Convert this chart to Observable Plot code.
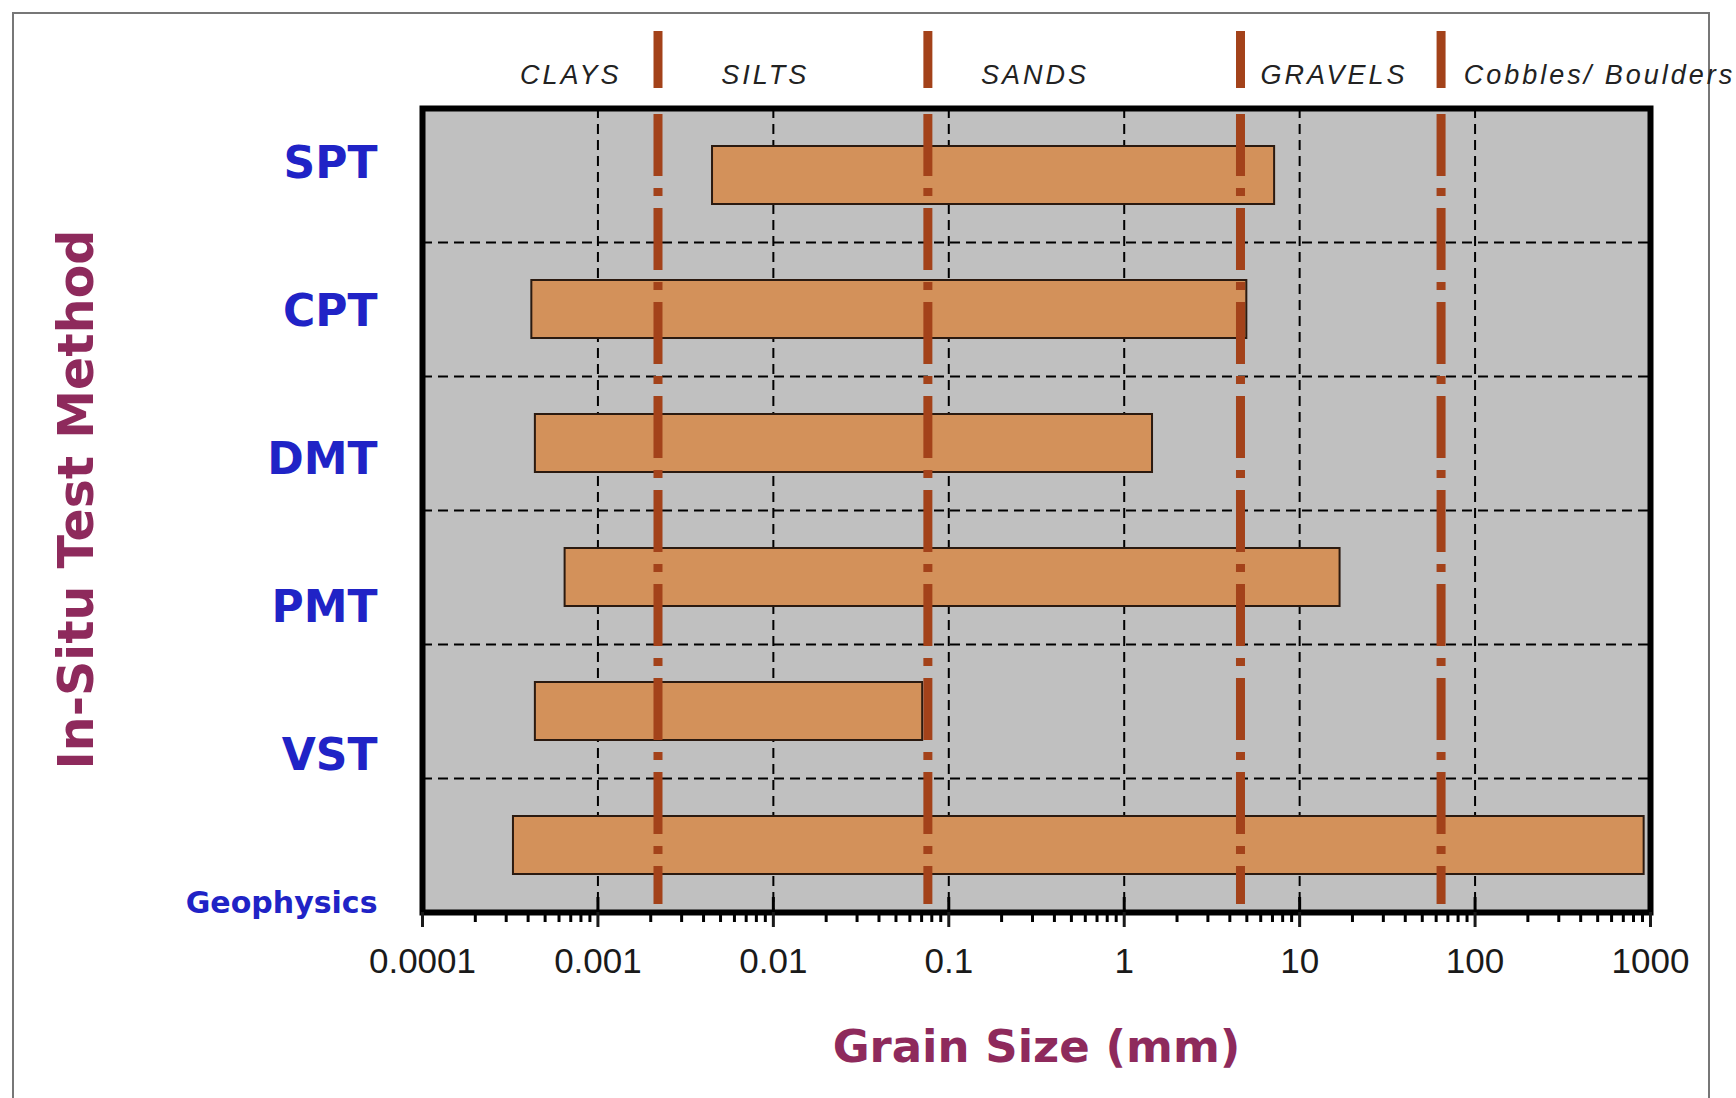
<!DOCTYPE html>
<html><head><meta charset="utf-8">
<script src="https://cdn.jsdelivr.net/npm/d3@7"></script>
<script src="https://cdn.jsdelivr.net/npm/@observablehq/plot@0.6"></script>
<style>
body{margin:0;background:#fff;}
#wrap{position:relative;width:1736px;height:1098px;overflow:hidden;background:#fff;}
#frame{position:absolute;left:12px;top:12px;width:1698px;height:1200px;border:2px solid #777;box-sizing:border-box;}
#wrap svg{position:absolute;left:0;top:0;}
</style></head><body><div id="wrap"><div id="frame"></div></div>
<script>
// ---- data ----
const methods = ["SPT", "CPT", "DMT", "PMT", "VST", "Geophysics"];
const minSize = [0.0045, 0.00042, 0.00044, 0.00065, 0.00044, 0.00033];
const maxSize = [7.2, 5.0, 1.45, 17, 0.071, 920];
const boundaries = [0.0022, 0.076, 4.6, 64];
const zoneNames = ["CLAYS", "SILTS", "SANDS", "GRAVELS", "Cobbles/ Boulders"];
const zoneLabelX = [0.0007, 0.009, 0.31, 15.7, 512];
const decades = [0.0001, 0.001, 0.01, 0.1, 1, 10, 100, 1000];
const tickLabels = ["0.0001", "0.001", "0.01", "0.1", "1", "10", "100", "1000"];

// ---- layout ----
const W = 1736, H = 1098, mL = 422, mR = 86, mT = 108, mB = 186;
const plotH = H - mT - mB;
const step = plotH / methods.length;
const barPad = 0.565;
const rows = methods.map((m, i) => ({method: m, lo: minSize[i], hi: maxSize[i]}));
const zones = zoneNames.map((n, i) => ({name: n, x: zoneLabelX[i]}));
const minorTicks = decades.slice(0, -1).flatMap(d => [2, 3, 4, 5, 6, 7, 8, 9].map(k => +(k * d).toPrecision(3)));
const brown = "#A3421A";
const titleFont = "'Comic Sans MS', 'DejaVu Sans', sans-serif";
const titleColor = "#8E2A5C";

const main = Plot.plot({
  width: W, height: H,
  marginLeft: mL, marginRight: mR, marginTop: mT, marginBottom: mB,
  style: {fontFamily: "'Liberation Sans', Arial, sans-serif", background: "transparent", overflow: "visible"},
  x: {type: "log", domain: [1e-4, 1e3], axis: null},
  y: {type: "band", domain: methods, paddingInner: barPad, paddingOuter: barPad / 2, axis: null},
  marks: [
    Plot.frame({fill: "#C0C0C0", stroke: null}),
    Plot.gridX(decades.slice(1, -1), {stroke: "#000", strokeOpacity: 1, strokeWidth: 2, strokeDasharray: "10,6"}),
    Plot.ruleY(methods.slice(1), {y: d => d, stroke: "#000", strokeWidth: 2, strokeDasharray: "10,6", dy: -step / 2}),
    Plot.barX(rows, {x1: "lo", x2: "hi", y: "method", fill: "#D3915A", stroke: "#2b1a10", strokeWidth: 2}),
    // classification boundaries (dash-dot inside plot, solid stub above)
    Plot.ruleX(boundaries, {stroke: brown, strokeWidth: 9, strokeDasharray: "62,12,8,12", insetTop: 6, insetBottom: 8}),
    Plot.ruleX(boundaries, {stroke: brown, strokeWidth: 9, insetTop: -(mT - 31), insetBottom: plotH + 20}),
    // upward decade ticks inside the plot
    Plot.ruleX(decades, {stroke: "#000", strokeWidth: 3, insetTop: plotH - 15}),
    Plot.frame({stroke: "#000", strokeWidth: 6}),
    Plot.axisX(minorTicks, {tickSize: 10, strokeWidth: 3, text: null, label: null, color: "#000"}),
    Plot.axisX(decades, {tickSize: 15, strokeWidth: 3, tickPadding: 21, fontSize: 35, label: null, color: "#1a1a1a",
      tickFormat: d => tickLabels[decades.indexOf(d)]}),
    Plot.text(zones, {x: "x", text: "name", frameAnchor: "top", dy: -33, fontSize: 27, fontStyle: "italic",
      fill: "#222", textAnchor: "middle", lineAnchor: "middle"}),
    Plot.text(["Grain Size (mm)"], {text: d => d, frameAnchor: "bottom", dy: 135, fontSize: 45, fontWeight: "bold",
      fill: titleColor, fontFamily: titleFont, textAnchor: "middle", lineAnchor: "middle"}),
    Plot.text(["In-Situ Test Method"], {text: d => d, frameAnchor: "left", dx: -345, dy: -11, rotate: -90, fontSize: 49,
      fontWeight: "bold", fill: titleColor, fontFamily: titleFont, textAnchor: "middle", lineAnchor: "middle"})
  ]
});

const labels = Plot.plot({
  width: W, height: H,
  marginLeft: mL, marginRight: mR, marginTop: 161, marginBottom: H - 905,
  style: {fontFamily: titleFont, background: "transparent", overflow: "visible"},
  x: {axis: null, domain: [0, 1]},
  y: {type: "point", domain: methods, padding: 0, axis: null},
  marks: [
    Plot.axisY(methods.slice(0, 5), {tickSize: 0, tickPadding: 45, fontSize: 44, fontWeight: "bold", color: "#2023C6", label: null}),
    Plot.axisY(["Geophysics"], {tickSize: 0, tickPadding: 45, fontSize: 30, fontWeight: "bold", color: "#2023C6", label: null})
  ]
});

const wrap = document.getElementById("wrap");
wrap.appendChild(main);
wrap.appendChild(labels);
d3.select(main).selectAll("text")
  .filter(function () { return zoneNames.includes(this.textContent); })
  .attr("letter-spacing", "3px").style("letter-spacing", "3px");
d3.select(labels).selectAll("text").style("font-weight", "bold");
</script></body></html>
